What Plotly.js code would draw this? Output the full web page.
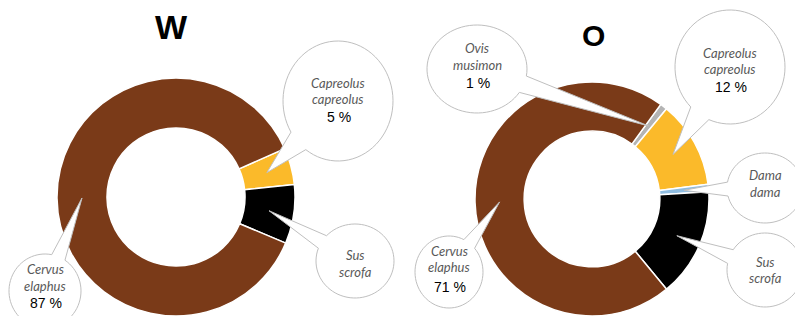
<!DOCTYPE html>
<html><head><meta charset="utf-8">
<script src="https://cdn.plot.ly/plotly-3.0.1.min.js"></script>
<style>html,body{margin:0;padding:0;background:#fff;} #chart{width:795px;height:316px;}</style>
</head><body><div id="chart"></div>
<script>
// ---- data ----
const wLabels = ['Capreolus capreolus', 'Sus scrofa', 'Cervus elaphus'];
const wValues = [5, 8, 87];
const wShowPct = [true, false, true];
const oLabels = ['Ovis musimon', 'Capreolus capreolus', 'Dama dama', 'Sus scrofa', 'Cervus elaphus'];
const oValues = [1, 12, 1, 15, 71];
const oShowPct = [true, true, false, false, true];
const chartTitles = ['W', 'O'];
const speciesColors = {
  'Capreolus capreolus': '#FBBA2A',
  'Sus scrofa': '#000000',
  'Cervus elaphus': '#7A3A18',
  'Ovis musimon': '#B4B4B4',
  'Dama dama': '#8FBCE0'
};

// ---- layout geometry (pixels) ----
const W = 795, H = 316;
const px = x => x / W;
const py = y => 1 - y / H;

const charts = [
  { title: chartTitles[0], labels: wLabels, values: wValues, showPct: wShowPct,
    cx: 176, cy: 197, r: 120, hole: 0.58, rotation: 66,
    titlePos: [171, 27], titleSize: 34,
    bubbles: [
      { cx: 338, cy: 101, rx: 55, ry: 60, lineY: [83, 99, 117] },
      { cx: 355, cy: 261, rx: 39, ry: 37, lineY: [255, 272] },
      { cx: 45, cy: 291, rx: 36, ry: 37, lineY: [269, 286, 303] }
    ] },
  { title: chartTitles[1], labels: oLabels, values: oValues, showPct: oShowPct,
    cx: 592, cy: 199, r: 119, hole: 0.58, rotation: 36,
    titlePos: [593, 36], titleSize: 30,
    bubbles: [
      { cx: 477, cy: 69, rx: 50, ry: 44, lineY: [48, 65, 83] },
      { cx: 730, cy: 67, rx: 55, ry: 57, lineY: [53, 69, 87] },
      { cx: 765, cy: 188, rx: 38, ry: 35, lineY: [175, 192] },
      { cx: 765, cy: 270, rx: 38, ry: 37, lineY: [262, 278] },
      { cx: 449, cy: 272, rx: 34, ry: 36, lineY: [251, 267, 287] }
    ] }
];

const traces = [], shapes = [], annotations = [];

charts.forEach(c => {
  const halfH = Math.min(c.r, H - c.cy, c.cy);
  traces.push({
    type: 'pie', labels: c.labels, values: c.values, sort: false,
    direction: 'clockwise', rotation: c.rotation, hole: c.hole,
    textinfo: 'none', hoverinfo: 'label+percent', showlegend: false,
    marker: { colors: c.labels.map(l => speciesColors[l]), line: { color: '#ffffff', width: 1.5 } },
    domain: { x: [px(c.cx - c.r), px(c.cx + c.r)], y: [py(c.cy + halfH), py(c.cy - halfH)] }
  });
  annotations.push({
    xref: 'paper', yref: 'paper', x: px(c.titlePos[0]), y: py(c.titlePos[1]),
    xanchor: 'center', yanchor: 'middle', showarrow: false, text: '<b>' + c.title + '</b>',
    font: { family: 'Liberation Sans, Arial, sans-serif', size: c.titleSize, color: '#000' }
  });
  const total = c.values.reduce((a, b) => a + b, 0);
  const rEff = Math.min(c.r, halfH);
  const tipR = rEff * (1 + c.hole) / 2;
  let cum = 0;
  c.values.forEach((v, i) => {
    const ang = (c.rotation + 360 * (cum + v / 2) / total) * Math.PI / 180;
    cum += v;
    const tx = c.cx + tipR * Math.sin(ang), ty = c.cy - tipR * Math.cos(ang);
    const b = c.bubbles[i];
    const th = Math.atan2((ty - b.cy) / b.ry, (tx - b.cx) / b.rx);
    const d = 0.2, n = 72;
    let path = '';
    for (let k = 0; k <= n; k++) {
      const t = th + d + (2 * Math.PI - 2 * d) * k / n;
      const x = b.cx + b.rx * Math.cos(t), y = b.cy + b.ry * Math.sin(t);
      path += (k === 0 ? 'M' : 'L') + px(x).toFixed(5) + ',' + py(y).toFixed(5);
    }
    path += 'L' + px(tx).toFixed(5) + ',' + py(ty).toFixed(5) + 'Z';
    shapes.push({ type: 'path', xref: 'paper', yref: 'paper', path: path,
      fillcolor: '#ffffff', line: { color: '#BFBFBF', width: 1 }, layer: 'above' });
    const words = c.labels[i].split(' ');
    words.forEach((w, j) => {
      annotations.push({ xref: 'paper', yref: 'paper', x: px(b.cx), y: py(b.lineY[j]),
        xanchor: 'center', yanchor: 'middle', showarrow: false, text: '<i>' + w + '</i>',
        font: { family: 'Lato, Open Sans, sans-serif', size: 13, color: '#595959' } });
    });
    if (c.showPct[i]) {
      annotations.push({ xref: 'paper', yref: 'paper', x: px(b.cx + 1), y: py(b.lineY[words.length]),
        xanchor: 'center', yanchor: 'middle', showarrow: false,
        text: Math.round(100 * v / total) + ' %',
        font: { family: 'Liberation Sans, Arial, sans-serif', size: 14, color: '#000' } });
    }
  });
});

Plotly.newPlot('chart', traces, {
  width: W, height: H, margin: { l: 0, r: 0, t: 0, b: 0 },
  paper_bgcolor: '#ffffff', plot_bgcolor: '#ffffff',
  shapes: shapes, annotations: annotations, showlegend: false
}, { displayModeBar: false, staticPlot: true });
</script>
</body></html>
